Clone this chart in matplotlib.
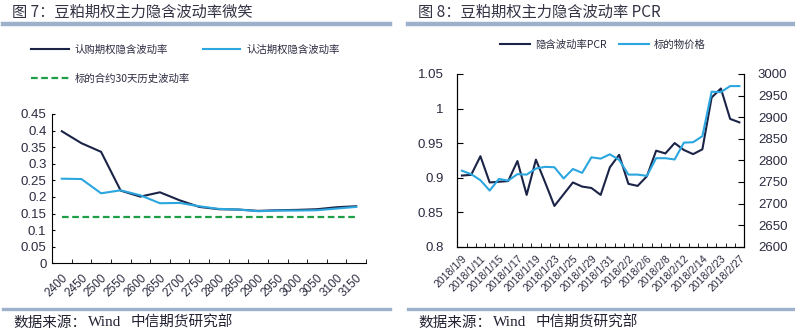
import matplotlib.pyplot as plt
from matplotlib.lines import Line2D
from matplotlib.ticker import FuncFormatter, FixedLocator

plt.rcParams['font.family'] = ['Liberation Sans', 'Noto Sans CJK SC', 'DejaVu Sans']
CJK = ['Noto Sans CJK SC', 'DejaVu Sans']

# left chart: implied volatility smile
strikes = ['2400', '2450', '2500', '2550', '2600', '2650', '2700', '2750',
           '2800', '2850', '2900', '2950', '3000', '3050', '3100', '3150']
call_iv = [0.398, 0.362, 0.336, 0.219, 0.201, 0.214, 0.190, 0.170,
           0.163, 0.162, 0.158, 0.160, 0.161, 0.163, 0.169, 0.172]
put_iv = [0.255, 0.254, 0.211, 0.220, 0.205, 0.181, 0.182, 0.172,
          0.164, 0.162, 0.157, 0.159, 0.159, 0.160, 0.165, 0.170]
hist_vol = 0.139

# right chart: IV PCR and underlying price
dates = ['2018/1/9', '2018/1/10', '2018/1/11', '2018/1/12', '2018/1/15', '2018/1/16',
         '2018/1/17', '2018/1/18', '2018/1/19', '2018/1/22', '2018/1/23', '2018/1/24',
         '2018/1/25', '2018/1/26', '2018/1/29', '2018/1/30', '2018/1/31', '2018/2/1',
         '2018/2/2', '2018/2/5', '2018/2/6', '2018/2/7', '2018/2/8', '2018/2/9',
         '2018/2/12', '2018/2/13', '2018/2/14', '2018/2/22', '2018/2/23', '2018/2/26',
         '2018/2/27']
pcr = [0.903, 0.904, 0.931, 0.893, 0.894, 0.895, 0.924, 0.875, 0.926, 0.893,
       0.859, 0.876, 0.893, 0.887, 0.885, 0.875, 0.915, 0.933, 0.891, 0.888,
       0.902, 0.939, 0.935, 0.950, 0.940, 0.934, 0.941, 1.016, 1.029, 0.985, 0.980]
price = [2776, 2768, 2754, 2730, 2757, 2753, 2768, 2767, 2781, 2785,
         2784, 2758, 2780, 2771, 2807, 2804, 2814, 2801, 2767, 2767,
         2764, 2805, 2805, 2802, 2841, 2842, 2856, 2959, 2958, 2972, 2972]

navy = '#1B2447'
blue = '#2BA6DE'
green = '#1E9E46'
gray = '#9DB1CB'
txt = '#2B2B40'

fig = plt.figure(figsize=(7.95, 3.35), dpi=100)
W, H = 795, 335


def fx(px):
    return px / W


def fy(py):
    return 1 - py / H


fmt = FuncFormatter(lambda v, p: '{:g}'.format(round(v, 4)))

# ---------- left ----------
ax1 = fig.add_axes([fx(52), fy(263.3), fx(366) - fx(52), fy(114) - fy(263.3)])
xs = list(range(len(strikes)))
l1, = ax1.plot(xs, call_iv, color=navy, lw=1.5, label='认购期权隐含波动率')
l2, = ax1.plot(xs, put_iv, color=blue, lw=1.5, label='认沽期权隐含波动率')
l3, = ax1.plot(xs, [hist_vol] * len(xs), color=green, lw=1.6, ls=(0, (3, 1.6)),
               label='标的合约30天历史波动率')
ax1.set_xlim(-0.5, len(xs) - 0.5)
ax1.set_ylim(0, 0.45)
ax1.set_yticks([i * 0.05 for i in range(10)])
ax1.yaxis.set_major_formatter(fmt)
ax1.set_xticks(xs)
ax1.set_xticklabels(strikes, rotation=45, ha='right', rotation_mode='anchor')
ax1.xaxis.set_minor_locator(FixedLocator([i - 0.5 for i in range(len(xs) + 1)]))
ax1.tick_params(axis='x', which='major', length=0, pad=6, labelsize=8.5, labelcolor=txt)
ax1.tick_params(axis='x', which='minor', length=3, direction='in', color='black')
ax1.tick_params(axis='y', length=2, direction='in', labelsize=9.5, labelcolor=txt, pad=4)
for s in ['top', 'right']:
    ax1.spines[s].set_visible(False)

fig.legend([l1, l3, l2], [l1.get_label(), l3.get_label(), l2.get_label()],
           ncol=2, loc='upper left', bbox_to_anchor=(fx(31), fy(45)),
           frameon=False, borderpad=0, borderaxespad=0, handlelength=3.6,
           handletextpad=0.6, columnspacing=1.2, labelspacing=1.75,
           prop={'family': CJK, 'size': 7.5}, labelcolor=txt)

# ---------- right ----------
ax2 = fig.add_axes([fx(457.3), fy(246.7), fx(744) - fx(457.3), fy(74) - fy(246.7)])
ax3 = ax2.twinx()
ds = list(range(len(dates)))
r1, = ax2.plot(ds, pcr, color=navy, lw=1.5, label='隐含波动率PCR')
r2, = ax3.plot(ds, price, color=blue, lw=1.5, label='标的物价格')
ax2.set_xlim(-0.5, len(ds) - 0.5)
ax2.set_ylim(0.8, 1.05)
ax2.set_yticks([0.8, 0.85, 0.9, 0.95, 1.0, 1.05])
ax2.yaxis.set_major_formatter(fmt)
ax3.set_ylim(2600, 3000)
ax3.set_yticks(range(2600, 3001, 50))
ax2.set_xticks(ds[::2])
ax2.set_xticklabels(dates[::2], rotation=45, ha='right', rotation_mode='anchor')
ax2.xaxis.set_minor_locator(FixedLocator([i - 0.5 for i in range(len(ds) + 1)]))
ax2.tick_params(axis='x', which='major', length=0, pad=5, labelsize=7.5, labelcolor=txt)
ax2.tick_params(axis='x', which='minor', length=3, direction='in', color='black')
ax2.tick_params(axis='y', length=4, direction='in', labelsize=9.5, labelcolor=txt, pad=10)
ax3.tick_params(axis='y', length=4, direction='in', labelsize=9.5, labelcolor=txt, pad=10)
for a in (ax2, ax3):
    a.spines['top'].set_visible(False)

fig.legend([r1, r2], [r1.get_label(), r2.get_label()], ncol=2, loc='upper left',
           bbox_to_anchor=(fx(500), fy(40)), frameon=False, borderpad=0,
           borderaxespad=0, handlelength=2.9, handletextpad=0.5, columnspacing=1.1,
           prop={'family': CJK, 'size': 7.5}, labelcolor=txt)

# ---------- titles, rules, sources ----------
fig.text(fx(12), fy(12), '图 7：豆粕期权主力隐含波动率微笑', family=CJK, fontsize=11,
         color='#333344', va='center', ha='left')
fig.text(fx(418), fy(12), '图 8：豆粕期权主力隐含波动率 PCR', family=CJK, fontsize=11,
         color='#333344', va='center', ha='left')
for x0, x1 in [(3, 390), (408, 795)]:
    fig.add_artist(Line2D([fx(x0), fx(x1)], [fy(23.5), fy(23.5)], color=gray, lw=3.2))
    fig.add_artist(Line2D([fx(x0), fx(x1)], [fy(309), fy(309)], color=gray, lw=2.4))
for off in (0, 405):
    fig.text(fx(13 + off), fy(323), '数据来源：', family=CJK, fontsize=10.5,
             color='#222233', va='center', ha='left')
    fig.text(fx(88 + off), fy(323), 'Wind', family='Liberation Serif', fontsize=11,
             color='#222233', va='center', ha='left')
    fig.text(fx(131 + off), fy(323), '中信期货研究部', family=CJK, fontsize=10.5,
             color='#222233', va='center', ha='left')

fig.savefig('out.png', dpi=100)
